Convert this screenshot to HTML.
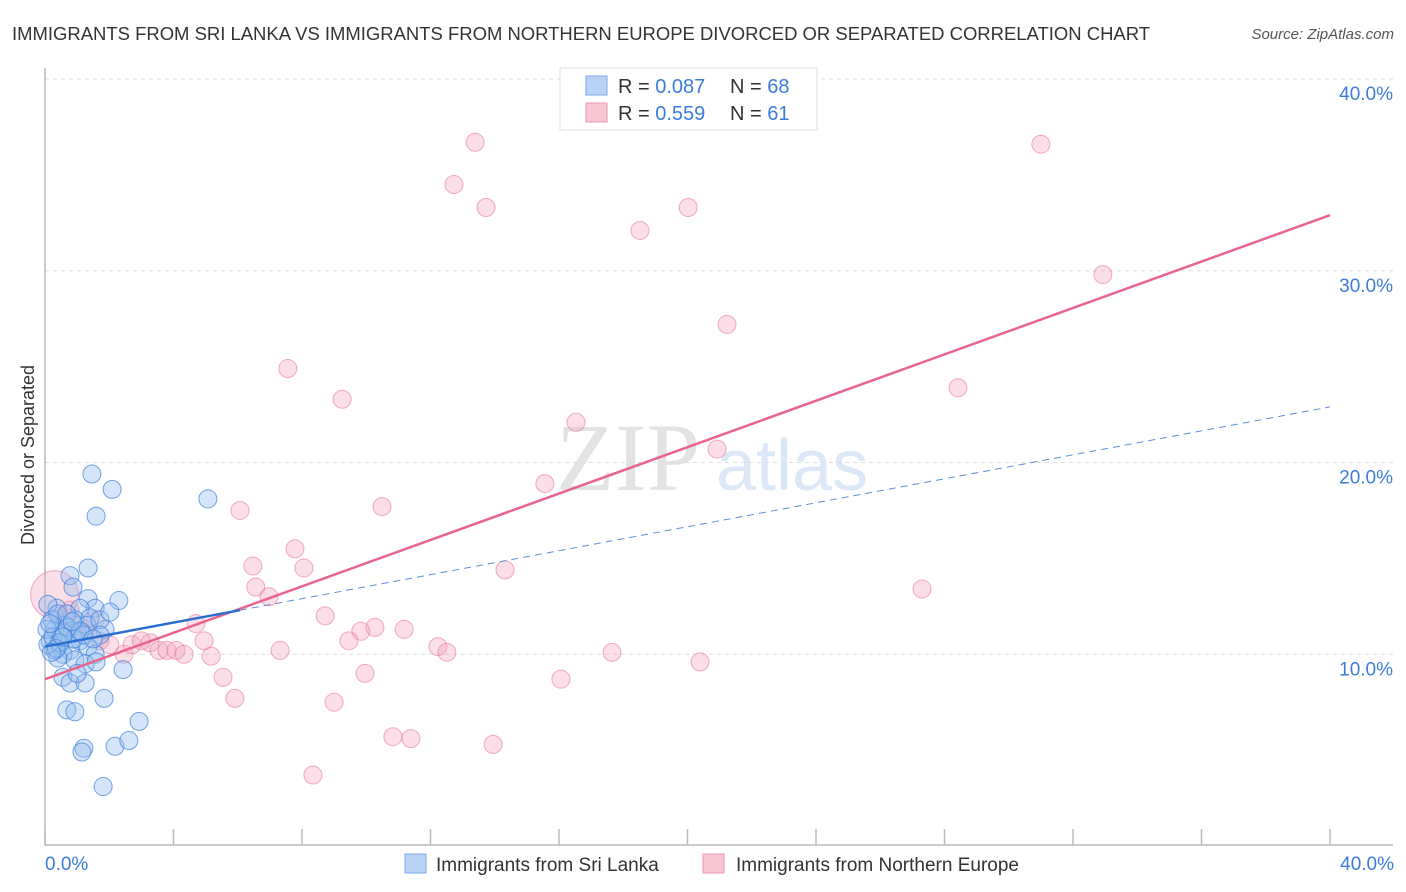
<!DOCTYPE html>
<html><head><meta charset="utf-8"><style>
body{margin:0;background:#fff;font-family:"Liberation Sans",sans-serif;}
svg{display:block}
</style></head><body>
<svg id="chart" width="1406" height="892" xmlns="http://www.w3.org/2000/svg">
<text x="12" y="40" font-size="18" fill="#333" textLength="1138" lengthAdjust="spacingAndGlyphs">IMMIGRANTS FROM SRI LANKA VS IMMIGRANTS FROM NORTHERN EUROPE DIVORCED OR SEPARATED CORRELATION CHART</text>
<text x="1394" y="39" font-size="15" fill="#555" font-style="italic" text-anchor="end">Source: ZipAtlas.com</text>
<g>
<text x="556" y="490" font-family="Liberation Serif,serif" font-size="96" fill="#e3e3e3">ZIP</text>
<text x="716" y="490" font-size="72" fill="#dce8f7">atlas</text>
</g>
<g id="grid"></g>
<g id="axes"></g>
<g id="pts"></g>
<g id="lines"></g>
<g>
<rect x="560" y="68" width="257" height="62" fill="#fff" stroke="#ddd"/>
<rect x="586" y="76" width="21" height="19" fill="#b9d3f5" stroke="#7aaae8"/>
<rect x="586" y="103" width="21" height="19" fill="#f8c6d4" stroke="#ee96b0"/>
<text x="618" y="93" font-size="20" fill="#333">R = <tspan fill="#3b7dd8">0.087</tspan><tspan x="730">N = </tspan><tspan fill="#3b7dd8">68</tspan></text>
<text x="618" y="120" font-size="20" fill="#333">R = <tspan fill="#3b7dd8"> 0.559</tspan><tspan x="730">N = </tspan><tspan fill="#3b7dd8"> 61</tspan></text>
</g>
<text transform="translate(34,455) rotate(-90)" font-size="18" fill="#333" text-anchor="middle">Divorced or Separated</text>
<text x="45" y="870" font-size="19" fill="#3b7dd8">0.0%</text>
<text x="1394" y="870" font-size="19" fill="#3b7dd8" text-anchor="end">40.0%</text>
<g>
<rect x="405" y="854" width="21" height="19" fill="#b9d3f5" stroke="#7aaae8"/>
<text x="436" y="871" font-size="19" fill="#333">Immigrants from Sri Lanka</text>
<rect x="703" y="854" width="21" height="19" fill="#f8c6d4" stroke="#ee96b0"/>
<text x="736" y="871" font-size="19" fill="#333">Immigrants from Northern Europe</text>
</g>
</svg>
<script>
const yTicks=[10,20,30,40];
const yTickLabels=["10.0%","20.0%","30.0%","40.0%"];
const xTicks=[0,4,8,12,16,20,24,28,32,36,40];
const blueX=[1.46,2.09,1.59,5.07,1.34,0.78,0.87,2.30,1.34,1.56,1.09,0.37,0.09,1.87,1.4,0.93,0.62,0.31,0.16,0.47,0.78,0.31,0.09,0.5,1.09,1.34,0.56,1.56,0.93,1.25,1.59,2.43,0.56,0.78,1.25,1.0,1.84,0.68,0.93,2.93,1.21,1.15,2.18,2.61,1.81,0.22,0.4,0.68,1.0,1.31,1.71,1.71,0.4,0.06,2.02,0.25,0.6,0.9,1.2,0.45,0.15,0.35,0.7,1.1,0.2,0.55,0.85,1.5];
const blueY=[19.4,18.6,17.2,18.1,14.5,14.1,13.5,12.8,12.9,12.4,12.4,12.4,12.6,11.3,11.9,11.8,11.5,11.3,10.7,10.5,10.2,10.2,10.5,11.0,10.7,10.4,10.0,10.0,9.7,9.5,9.6,9.2,8.8,8.5,8.5,9.0,7.7,7.1,7.0,6.5,5.1,4.9,5.2,5.5,3.1,11.8,12.1,12.1,11.2,11.5,11.8,11.0,9.8,11.3,12.2,10.9,11.1,10.8,11.0,10.6,11.6,10.3,11.4,11.2,10.1,10.9,11.7,10.8];
const pinkX=[13.39,12.73,13.73,18.52,20.02,31.0,32.93,21.23,7.56,9.25,16.53,20.92,28.42,15.56,6.07,10.49,7.78,6.47,8.06,14.32,6.56,6.97,27.3,8.72,4.70,10.27,9.83,11.18,9.46,4.95,12.23,12.51,17.65,7.32,3.27,3.55,3.80,4.08,4.33,5.17,2.46,2.71,3.0,20.39,9.96,5.54,16.06,5.91,9.0,10.83,11.39,13.95,8.34,0.47,0.78,1.25,1.71,2.02,1.56,0.93,0.3];
const pinkY=[36.7,34.5,33.3,32.1,33.3,36.6,29.8,27.2,24.9,23.3,22.1,20.7,23.9,18.9,17.5,17.7,15.5,14.6,14.5,14.4,13.5,13.0,13.4,12.0,11.6,11.4,11.2,11.3,10.7,10.7,10.4,10.1,10.1,10.2,10.6,10.2,10.2,10.2,10.0,9.9,10.0,10.5,10.7,9.6,9.0,8.8,8.7,7.7,7.5,5.7,5.6,5.3,3.7,12.0,12.3,11.3,10.7,10.5,11.8,11.5,13.1];
const pinkSizes=[9,9,9,9,9,9,9,9,9,9,9,9,9,9,9,9,9,9,9,9,9,9,9,9,9,9,9,9,9,9,9,9,9,9,9,9,9,9,9,9,9,9,9,9,9,9,9,9,9,9,9,9,9,9,9,9,9,9,9,9,24];
const blueTrend=[10.4,22.9];
const blueSolidEnd=6.07;
const pinkTrend=[8.7,32.9];
const NS="http://www.w3.org/2000/svg";
const X0=45,X1=1330,Y0=846,YPER=19.175;
function sx(v){return X0+(v/40)*(X1-X0);}
function sy(v){return Y0-v*YPER;}
function mk(tag,attrs,parent){const e=document.createElementNS(NS,tag);for(const k in attrs)e.setAttribute(k,attrs[k]);parent.appendChild(e);return e;}
const grid=document.getElementById('grid'),axes=document.getElementById('axes'),pts=document.getElementById('pts'),lines=document.getElementById('lines');
yTicks.forEach((t,i)=>{
 const l=mk('line',{x1:45,x2:1393,y1:sy(t),y2:sy(t),stroke:'#ddd','stroke-dasharray':'4,4'},grid);
 
 
 const tx=mk('text',{x:1393,y:sy(t)+21,'font-size':19,fill:'#3b7dd8','text-anchor':'end'},grid);
 tx.textContent=yTickLabels[i];
 
 
});
const ax=mk('line',{x1:45,x2:45,y1:68,y2:846,stroke:'#bbb','stroke-width':1.5},axes);


const bx=mk('line',{x1:45,x2:1393,y1:845,y2:845,stroke:'#bbb','stroke-width':1.5},axes);


xTicks.forEach(t=>{
 const l=mk('line',{x1:sx(t),x2:sx(t),y1:829,y2:845,stroke:'#bbb','stroke-width':1.5},axes);
 
 
});
pinkX.forEach((x,i)=>{
 const c=mk('circle',{cx:sx(x),cy:sy(pinkY[i]),r:pinkSizes[i],fill:'rgba(244,160,186,0.35)',stroke:'rgba(232,120,155,0.6)','stroke-width':1},pts);
 
 
});
blueX.forEach((x,i)=>{
 const c=mk('circle',{cx:sx(x),cy:sy(blueY[i]),r:9,fill:'rgba(150,190,240,0.4)',stroke:'rgba(60,125,216,0.7)','stroke-width':1},pts);
 
 
});
function trendY(tr,x){return tr[0]+(tr[1]-tr[0])*x/40;}
const bd=mk('line',{x1:sx(blueSolidEnd),y1:sy(trendY(blueTrend,blueSolidEnd)),x2:sx(40),y2:sy(blueTrend[1]),stroke:'#5a8fd8','stroke-width':1,'stroke-dasharray':'7,5'},lines);


const pl=mk('line',{x1:sx(0),y1:sy(pinkTrend[0]),x2:sx(40),y2:sy(pinkTrend[1]),stroke:'#e8648f','stroke-width':2.5},lines);


const bl=mk('line',{x1:sx(0),y1:sy(blueTrend[0]),x2:sx(blueSolidEnd),y2:sy(trendY(blueTrend,blueSolidEnd)),stroke:'#2a6fd0','stroke-width':2.5},lines);


</script>
</body></html>
